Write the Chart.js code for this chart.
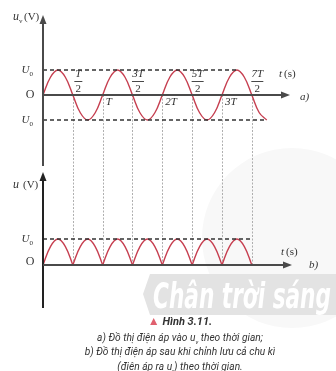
<!DOCTYPE html>
<html>
<head>
<meta charset="utf-8">
<script src="https://cdn.jsdelivr.net/npm/chart.js@4.4.1/dist/chart.umd.min.js"></script>
<style>
body { margin: 0; background: #fff; }
#wrap { position: relative; width: 336px; height: 371px; overflow: hidden; }
#c { position: absolute; left: 0; top: 0; }
.cap { position: absolute; left: 0; width: 360px; text-align: center; font-family: Roboto, sans-serif;
       font-style: italic; font-size: 10.2px; line-height: 12px; color: #333; white-space: nowrap; }
.cap sub { font-size: 6px; }
</style>
</head>
<body>
<div id="wrap">
<canvas id="c" width="336" height="371"></canvas>
<div class="cap" style="top:315px;font-size:11px;line-height:13px;font-weight:bold;"><span style="color:#e0606e;font-style:normal;font-size:12px">▲</span> Hình 3.11.</div>
<div class="cap" style="top:332px;">a) Đồ thị điện áp vào u<sub>v</sub> theo thời gian;</div>
<div class="cap" style="top:346px;">b) Đồ thị điện áp sau khi chỉnh lưu cả chu kì</div>
<div class="cap" style="top:361px;">(điện áp ra u<sub>r</sub>) theo thời gian.</div>
</div>
<script>
// time in units of T, voltage in units of U0
var timeStep = 0.125;
// a) input voltage, read every T/8 from 0 to 3.75T
var inputVoltage = [0, 0.71, 1, 0.71, 0, -0.71, -1, -0.71,
                    0, 0.71, 1, 0.71, 0, -0.71, -1, -0.71,
                    0, 0.71, 1, 0.71, 0, -0.71, -1, -0.71,
                    0, 0.71, 1, 0.71, 0, -0.71, -1];
// b) rectified voltage, read every T/8 from 0 to 3.5T
var outputVoltage = [0, 0.71, 1, 0.71, 0, 0.71, 1, 0.71,
                     0, 0.71, 1, 0.71, 0, 0.71, 1, 0.71,
                     0, 0.71, 1, 0.71, 0, 0.71, 1, 0.71,
                     0, 0.71, 1, 0.71, 0];
var U0 = 1;
var topPeakLineEnd = 3.25;   // dashed U0 line in a)
var topTroughLineEnd = 3.75; // dashed -U0 line in a)
var bottomPeakLineEnd = 3.5; // dashed U0 line in b)
var tickTimes = [0.5, 1, 1.5, 2, 2.5, 3, 3.5];
var tickLabels = ["T/2", "T", "3T/2", "2T", "5T/2", "3T", "7T/2"];

var RED = "#c63f50";
var AXIS = "#4a4a4a";

function toPoints(values) {
    return values.map(function (v, i) { return { x: i * timeStep, y: v }; });
}

var datasets = [];
datasets.push({ data: [{ x: 0, y: U0 }, { x: topPeakLineEnd, y: U0 }], yAxisID: "yTop",
    borderColor: "#333", borderWidth: 1.5, borderDash: [4, 3], pointRadius: 0 });
datasets.push({ data: [{ x: 0, y: -U0 }, { x: topTroughLineEnd, y: -U0 }], yAxisID: "yTop",
    borderColor: "#333", borderWidth: 1.5, borderDash: [4, 3], pointRadius: 0 });
datasets.push({ data: [{ x: 0, y: U0 }, { x: bottomPeakLineEnd, y: U0 }], yAxisID: "yBot",
    borderColor: "#333", borderWidth: 1.5, borderDash: [4, 3], pointRadius: 0 });
datasets.push({ data: toPoints(inputVoltage), yAxisID: "yTop",
    borderColor: RED, borderWidth: 1.4, tension: 0.4, pointRadius: 0 });
// split the rectified wave into arches so the cusps stay sharp
var outPts = toPoints(outputVoltage);
for (var k = 0; k + 4 < outPts.length; k += 4) {
    datasets.push({ data: outPts.slice(k, k + 5), yAxisID: "yBot",
        borderColor: RED, borderWidth: 1.4, tension: 0.4, pointRadius: 0 });
}

function arrowUp(ctx, x, y) {
    ctx.beginPath(); ctx.moveTo(x, y); ctx.lineTo(x - 3.5, y + 9); ctx.lineTo(x + 3.5, y + 9); ctx.closePath(); ctx.fill();
}
function arrowRight(ctx, x, y) {
    ctx.beginPath(); ctx.moveTo(x, y); ctx.lineTo(x - 9, y - 3.5); ctx.lineTo(x - 9, y + 3.5); ctx.closePath(); ctx.fill();
}
function subText(ctx, main, sub, x, y) {
    // right-aligned at x, middle at y
    ctx.font = "italic 11px 'Liberation Serif'";
    var w1 = ctx.measureText(main).width;
    ctx.font = "7px 'Liberation Serif'";
    var w2 = ctx.measureText(sub).width;
    ctx.textAlign = "left"; ctx.textBaseline = "middle";
    ctx.font = "italic 11px 'Liberation Serif'";
    ctx.fillText(main, x - w1 - w2, y);
    ctx.font = "7px 'Liberation Serif'";
    ctx.fillText(sub, x - w2, y + 4);
}

var backdrop = {
    id: "backdrop",
    beforeDraw: function (chart) {
        var ctx = chart.ctx;
        ctx.save();
        // faint logo disc behind b)
        ctx.fillStyle = "#f8f8f8";
        ctx.beginPath(); ctx.arc(292, 238, 90, 0, Math.PI * 2); ctx.fill();
        // watermark band
        ctx.fillStyle = "#e3e3e3";
        ctx.beginPath();
        ctx.moveTo(150, 274); ctx.lineTo(336, 274); ctx.lineTo(336, 315); ctx.lineTo(150, 315); ctx.lineTo(143, 294);
        ctx.closePath(); ctx.fill();
        ctx.fillStyle = "#ffffff";
        ctx.font = "italic bold 36px 'DejaVu Sans Condensed', 'DejaVu Sans'";
        ctx.textAlign = "left"; ctx.textBaseline = "alphabetic";
        ctx.fillText("Chân trời sáng", 153, 308, 178);
        ctx.restore();
    },
    beforeDatasetsDraw: function (chart) {
        var ctx = chart.ctx, x = chart.scales.x;
        var y0 = chart.scales.yTop.getPixelForValue(0), y1 = chart.scales.yBot.getPixelForValue(0);
        ctx.save();
        ctx.strokeStyle = "#9a9a9a"; ctx.lineWidth = 0.8; ctx.setLineDash([2, 1.5]);
        tickTimes.forEach(function (t) {
            var px = Math.round(x.getPixelForValue(t)) + 0.5;
            ctx.beginPath(); ctx.moveTo(px, y0); ctx.lineTo(px, y1); ctx.stroke();
        });
        ctx.restore();
    },
    afterDatasetsDraw: function (chart) {
        var ctx = chart.ctx, x = chart.scales.x, yT = chart.scales.yTop, yB = chart.scales.yBot;
        var ox = x.getPixelForValue(0);
        var xEnd = chart.chartArea.right;
        ctx.save();
        ctx.fillStyle = AXIS; ctx.strokeStyle = AXIS; ctx.lineWidth = 2;
        // a) axes
        var topZero = yT.getPixelForValue(0);
        ctx.beginPath(); ctx.moveTo(ox, yT.getPixelForValue(-2.84)); ctx.lineTo(ox, yT.getPixelForValue(3.2) + 6); ctx.stroke();
        arrowUp(ctx, ox, yT.getPixelForValue(3.2));
        ctx.beginPath(); ctx.moveTo(ox, topZero); ctx.lineTo(xEnd - 6, topZero); ctx.stroke();
        arrowRight(ctx, xEnd, topZero);
        // b) axes
        var botZero = yB.getPixelForValue(0);
        ctx.fillStyle = "#222"; ctx.strokeStyle = "#222";
        ctx.beginPath(); ctx.moveTo(ox, yB.getPixelForValue(-1.654)); ctx.lineTo(ox, yB.getPixelForValue(3.58) + 6); ctx.stroke();
        arrowUp(ctx, ox, yB.getPixelForValue(3.58));
        ctx.fillStyle = AXIS; ctx.strokeStyle = AXIS;
        ctx.beginPath(); ctx.moveTo(ox, botZero); ctx.lineTo(xEnd - 6, botZero); ctx.stroke();
        arrowRight(ctx, xEnd + 2, botZero);

        // labels
        ctx.fillStyle = "#333";
        subText(ctx, "U", "0", ox - 10, yT.getPixelForValue(U0));
        subText(ctx, "U", "0", ox - 10, yT.getPixelForValue(-U0));
        subText(ctx, "U", "0", ox - 10, yB.getPixelForValue(U0));
        ctx.font = "12px 'Liberation Serif'"; ctx.textAlign = "center"; ctx.textBaseline = "middle";
        ctx.fillText("O", ox - 13, topZero);
        ctx.fillText("O", ox - 13, botZero - 3);

        ctx.textAlign = "left";
        ctx.font = "italic 12px 'Liberation Serif'"; ctx.fillText("u", 13, 17);
        ctx.font = "7px 'Liberation Serif'"; ctx.fillText("v", 19, 21);
        ctx.font = "11px 'Liberation Serif'"; ctx.fillText("(V)", 24, 17);
        ctx.font = "italic 12px 'Liberation Serif'"; ctx.fillText("u", 13, 185);
        ctx.font = "11px 'Liberation Serif'"; ctx.fillText("(V)", 23, 185);

        ctx.font = "italic 11px 'Liberation Serif'"; ctx.fillText("t", 279, 74);
        ctx.font = "11px 'Liberation Serif'"; ctx.fillText("(s)", 284, 74);
        ctx.font = "italic 11px 'Liberation Serif'"; ctx.fillText("t", 281, 252);
        ctx.font = "11px 'Liberation Serif'"; ctx.fillText("(s)", 286, 252);
        ctx.font = "italic 11px 'Liberation Serif'"; ctx.fillText("a)", 300, 97);
        ctx.fillText("b)", 309, 265);

        tickTimes.forEach(function (t, i) {
            var px = x.getPixelForValue(t);
            var lab = tickLabels[i];
            if (lab.indexOf("/") >= 0) {
                var parts = lab.split("/");
                var cx = px + 5.5;
                ctx.textAlign = "center";
                ctx.font = "italic 11px 'Liberation Serif'";
                ctx.fillText(parts[0], cx, topZero - 21);
                ctx.font = "11px 'Liberation Serif'";
                ctx.fillText(parts[1], cx, topZero - 6);
                ctx.lineWidth = 0.9; ctx.strokeStyle = "#333";
                var w = parts[0].length > 1 ? 12 : 8;
                ctx.beginPath(); ctx.moveTo(cx - w / 2, topZero - 13.5); ctx.lineTo(cx + w / 2, topZero - 13.5); ctx.stroke();
            } else {
                ctx.textAlign = "left";
                ctx.font = "italic 11px 'Liberation Serif'";
                ctx.fillText(lab, px + 3, topZero + 7);
            }
        });
        ctx.restore();
    }
};

new Chart(document.getElementById("c").getContext("2d"), {
    type: "line",
    data: { datasets: datasets },
    options: {
        responsive: false,
        animation: false,
        devicePixelRatio: 1,
        events: [],
        plugins: { legend: { display: false }, tooltip: { enabled: false } },
        layout: { padding: { left: 43, top: 15, right: 46, bottom: 63 } },
        scales: {
            x: { type: "linear", min: 0, max: 4.14, display: false },
            yTop: { type: "linear", min: -8.52, max: 3.2, display: false },
            yBot: { type: "linear", min: -1.654, max: 9.615, display: false }
        }
    },
    plugins: [backdrop]
});
</script>
</body>
</html>
